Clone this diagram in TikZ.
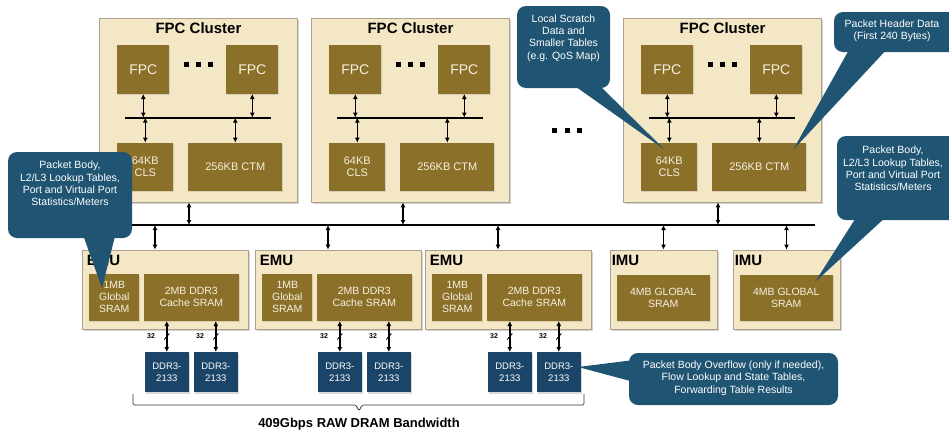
\documentclass[tikz,border=0pt]{standalone}
\usepackage{fontspec}
\setmainfont{Liberation Sans}
\usepackage{xcolor}
\usepackage{tikz}
\usetikzlibrary{positioning}
\usetikzlibrary{arrows.meta}
\usetikzlibrary{shadows}
\usetikzlibrary{decorations.markings}
\definecolor{tan_bg}{RGB}{244,231,198}
\definecolor{tan_edge}{RGB}{170,160,140}
\definecolor{olive_box}{RGB}{139,112,42}
\definecolor{olive_txt}{RGB}{246,240,222}
\definecolor{ddr_color}{RGB}{27,69,104}
\definecolor{note_color}{RGB}{31,84,114}

\begin{document}
\begin{tikzpicture}[
    x=1pt, y=-1pt,
    cluster/.style={draw=tan_edge, fill=tan_bg, line width=0.8pt,
                    minimum width=198pt, minimum height=184pt, inner sep=0pt,
                    drop shadow={shadow xshift=1.5pt, shadow yshift=-1.5pt,
                                 opacity=0.35}},
    unit/.style={cluster, minimum width=166pt, minimum height=79pt},
    ttl/.style={font=\fontsize{15}{17}\selectfont\bfseries, inner sep=0pt},
    block/.style={fill=olive_box, text=olive_txt, align=center, inner sep=0pt,
                  font=\fontsize{10.5}{12}\selectfont,
                  drop shadow={shadow xshift=1pt, shadow yshift=-1pt,
                               opacity=0.25}},
    fpc/.style={block, minimum width=52pt, minimum height=49pt,
                font=\fontsize{14}{16}\selectfont},
    mem/.style={block, minimum height=48pt, font=\fontsize{11}{12.5}\selectfont},
    sram/.style={block, minimum height=47pt},
    ddr/.style={fill=ddr_color, text=white, align=center, inner sep=0pt,
                minimum width=44pt, minimum height=40pt,
                font=\fontsize{9.5}{12}\selectfont,
                drop shadow={shadow xshift=1.5pt, shadow yshift=-1.5pt,
                             opacity=0.3}},
    sqdot/.style={fill=black, minimum size=5pt, inner sep=0pt},
    bus/.style={line width=1.8pt},
    link/.style={<->, line width=1.6pt},
    wide/.style={link, postaction={decorate, decoration={markings,
                 mark=at position 0.5 with {\draw[-, line width=0.9pt]
                 (3pt,-2.5pt) -- (-3pt,2.5pt);}}}},
    wlabel/.style={font=\fontsize{7}{8}\selectfont\bfseries, inner sep=0pt},
    note/.style={fill=note_color, rounded corners=9pt, inner sep=0pt},
    notetext/.style={text=white, align=center, inner sep=0pt,
                     font=\fontsize{10.5}{12.3}\selectfont},
    >={Latex[length=5pt,width=5pt]}]
    \useasboundingbox (0,0) rectangle (949,432);

    % FPC cluster 1
    \node[cluster] (clu1) at (198.5,110) {};
    \node[ttl, anchor=base, yshift=-16pt] (ttl1) at (clu1.north) {FPC Cluster};
    \node[fpc, below right=27pt and 18pt of clu1.north west] (fpcA1) {FPC};
    \node[fpc, below right=27pt and 127pt of clu1.north west] (fpcB1) {FPC};
    \node[mem, minimum width=56pt, below right=125pt and 18pt of clu1.north west] (cls1) {64KB\\CLS};
    \node[mem, minimum width=94pt, below right=125pt and 89pt of clu1.north west] (ctm1) {256KB CTM};
    \node[sqdot, below=44.5pt of clu1.north] (dB1) {};
    \node[sqdot, left=7pt of dB1] (dA1) {};
    \node[sqdot, right=7pt of dB1] (dC1) {};
    \coordinate[below right=100pt and 26pt of clu1.north west] (busL1);
    \coordinate[below right=100pt and 172pt of clu1.north west] (busR1);
    \draw[bus] (busL1) -- (busR1);
    \draw[link] (fpcA1.south) -- (fpcA1.south |- busL1);
    \draw[link] (fpcB1.south) -- (fpcB1.south |- busL1);
    \draw[link] (cls1.north |- busL1) -- (cls1.north);
    \draw[link] (ctm1.north |- busL1) -- (ctm1.north);

    % FPC cluster 2
    \node[cluster] (clu2) at (410.5,110) {};
    \node[ttl, anchor=base, yshift=-16pt] (ttl2) at (clu2.north) {FPC Cluster};
    \node[fpc, below right=27pt and 18pt of clu2.north west] (fpcA2) {FPC};
    \node[fpc, below right=27pt and 127pt of clu2.north west] (fpcB2) {FPC};
    \node[mem, minimum width=56pt, below right=125pt and 18pt of clu2.north west] (cls2) {64KB\\CLS};
    \node[mem, minimum width=94pt, below right=125pt and 89pt of clu2.north west] (ctm2) {256KB CTM};
    \node[sqdot, below=44.5pt of clu2.north] (dB2) {};
    \node[sqdot, left=7pt of dB2] (dA2) {};
    \node[sqdot, right=7pt of dB2] (dC2) {};
    \coordinate[below right=100pt and 26pt of clu2.north west] (busL2);
    \coordinate[below right=100pt and 172pt of clu2.north west] (busR2);
    \draw[bus] (busL2) -- (busR2);
    \draw[link] (fpcA2.south) -- (fpcA2.south |- busL2);
    \draw[link] (fpcB2.south) -- (fpcB2.south |- busL2);
    \draw[link] (cls2.north |- busL2) -- (cls2.north);
    \draw[link] (ctm2.north |- busL2) -- (ctm2.north);

    % more clusters
    \node[sqdot] (gB) at (567,130) {};
    \node[sqdot, left=7pt of gB] (gA) {};
    \node[sqdot, right=7pt of gB] (gC) {};

    % FPC cluster 3
    \node[cluster] (clu3) at (722.5,110) {};
    \node[ttl, anchor=base, yshift=-16pt] (ttl3) at (clu3.north) {FPC Cluster};
    \node[fpc, below right=27pt and 18pt of clu3.north west] (fpcA3) {FPC};
    \node[fpc, below right=27pt and 127pt of clu3.north west] (fpcB3) {FPC};
    \node[mem, minimum width=56pt, below right=125pt and 18pt of clu3.north west] (cls3) {64KB\\CLS};
    \node[mem, minimum width=94pt, below right=125pt and 89pt of clu3.north west] (ctm3) {256KB CTM};
    \node[sqdot, below=44.5pt of clu3.north] (dB3) {};
    \node[sqdot, left=7pt of dB3] (dA3) {};
    \node[sqdot, right=7pt of dB3] (dC3) {};
    \coordinate[below right=100pt and 26pt of clu3.north west] (busL3);
    \coordinate[below right=100pt and 172pt of clu3.north west] (busR3);
    \draw[bus] (busL3) -- (busR3);
    \draw[link] (fpcA3.south) -- (fpcA3.south |- busL3);
    \draw[link] (fpcB3.south) -- (fpcB3.south |- busL3);
    \draw[link] (cls3.north |- busL3) -- (cls3.north);
    \draw[link] (ctm3.north |- busL3) -- (ctm3.north);

    % main bus
    \coordinate (mbL) at (105,225);
    \coordinate (mbR) at (815,225);
    \draw[bus] (mbL) -- (mbR);
    \coordinate (up1) at (189,225);
    \coordinate (up2) at (403,225);
    \coordinate (up3) at (718,225);
    \draw[link] (clu1.south -| up1) -- (up1);
    \draw[link] (clu2.south -| up2) -- (up2);
    \draw[link] (clu3.south -| up3) -- (up3);

    % EMU / IMU
    \node[unit] (emu1) at (165,289.5) {};
    \node[unit] (emu2) at (338,289.5) {};
    \node[unit] (emu3) at (508,289.5) {};
    \node[unit, minimum width=107pt] (imu1) at (663.5,289.5) {};
    \node[unit, minimum width=107pt] (imu2) at (786.5,289.5) {};
    \node[ttl, anchor=base west, xshift=5pt, yshift=-16pt] (lbE1) at (emu1.north west) {EMU};
    \node[ttl, anchor=base west, xshift=5pt, yshift=-16pt] (lbE2) at (emu2.north west) {EMU};
    \node[ttl, anchor=base west, xshift=5pt, yshift=-16pt] (lbE3) at (emu3.north west) {EMU};
    \node[ttl, anchor=base west, xshift=2pt, yshift=-16pt] (lbI1) at (imu1.north west) {IMU};
    \node[ttl, anchor=base west, xshift=2pt, yshift=-16pt] (lbI2) at (imu2.north west) {IMU};
    \node[sram, minimum width=50pt, below right=24pt and 7.5pt of emu1.north west] (gs1) {1MB\\Global\\SRAM};
    \node[sram, minimum width=95pt, below right=24pt and 62pt of emu1.north west] (cache1) {2MB DDR3\\Cache SRAM};
    \node[sram, minimum width=50pt, below right=24pt and 7.5pt of emu2.north west] (gs2) {1MB\\Global\\SRAM};
    \node[sram, minimum width=95pt, below right=24pt and 62pt of emu2.north west] (cache2) {2MB DDR3\\Cache SRAM};
    \node[sram, minimum width=50pt, below right=24pt and 7.5pt of emu3.north west] (gs3) {1MB\\Global\\SRAM};
    \node[sram, minimum width=95pt, below right=24pt and 62pt of emu3.north west] (cache3) {2MB DDR3\\Cache SRAM};
    \node[sram, minimum width=93pt, minimum height=46pt, below right=25pt and 7pt of imu1.north west] (gm1) {4MB GLOBAL\\SRAM};
    \node[sram, minimum width=93pt, minimum height=46pt, below right=25pt and 7pt of imu2.north west] (gm2) {4MB GLOBAL\\SRAM};
    \coordinate (dn1) at (155,225);
    \coordinate (dn2) at (328,225);
    \coordinate (dn3) at (498,225);
    \coordinate (dn4) at (663.5,225);
    \coordinate (dn5) at (786.5,225);
    \draw[link] (dn1) -- (dn1 |- emu1.north);
    \draw[link] (dn2) -- (dn2 |- emu2.north);
    \draw[link] (dn3) -- (dn3 |- emu3.north);
    \draw[link] (dn4) -- (dn4 |- imu1.north);
    \draw[link] (dn5) -- (dn5 |- imu2.north);

    % DRAM
    \node[ddr, below right=31pt and 1pt of cache1.south west] (ddrA1) {DDR3-\\2133};
    \node[ddr, below left=31pt and 1pt of cache1.south east] (ddrB1) {DDR3-\\2133};
    \node[ddr, below right=31pt and 1pt of cache2.south west] (ddrA2) {DDR3-\\2133};
    \node[ddr, below left=31pt and 1pt of cache2.south east] (ddrB2) {DDR3-\\2133};
    \node[ddr, below right=31pt and 1pt of cache3.south west] (ddrA3) {DDR3-\\2133};
    \node[ddr, below left=31pt and 1pt of cache3.south east] (ddrB3) {DDR3-\\2133};
    \draw[wide] (ddrA1.north |- cache1.south) -- (ddrA1.north) node[midway, left=11pt, wlabel] {32};
    \draw[wide] (ddrB1.north |- cache1.south) -- (ddrB1.north) node[midway, left=11pt, wlabel] {32};
    \draw[wide] (ddrA2.north |- cache2.south) -- (ddrA2.north) node[midway, left=11pt, wlabel] {32};
    \draw[wide] (ddrB2.north |- cache2.south) -- (ddrB2.north) node[midway, left=11pt, wlabel] {32};
    \draw[wide] (ddrA3.north |- cache3.south) -- (ddrA3.north) node[midway, left=11pt, wlabel] {32};
    \draw[wide] (ddrB3.north |- cache3.south) -- (ddrB3.north) node[midway, left=11pt, wlabel] {32};

    % bandwidth brace
    \draw[line width=0.7pt, black!80, rounded corners=1.5pt]
      (133,394) -- (133,405) -- (356,405) -- (359,411) -- (362,405)
      -- (584,405) -- (584,394);
    \node[ttl, font=\fontsize{13}{15}\selectfont\bfseries, anchor=base] (bw)
      at (359,427) {409Gbps RAW DRAM Bandwidth};

    % callouts
    \coordinate (tip1) at (102,288);
    \coordinate (tip2) at (665,150);
    \coordinate (tip3) at (793,150);
    \coordinate (tip4) at (815,282);
    \coordinate (tip5) at (578,367);
    \node[note, minimum width=124pt, minimum height=86pt] (co1) at (70,195) {};
    \fill[note_color] (82,232) -- (tip1) -- (116,232) -- cycle;
    \node[notetext] (cot1) at (70,183.5)
      {Packet Body,\\L2/L3 Lookup Tables,\\Port and Virtual Port\\Statistics/Meters};
    \node[note, minimum width=93pt, minimum height=82pt] (co2) at (563.5,47) {};
    \fill[note_color] (572,84) -- (tip2) -- (598,84) -- cycle;
    \node[notetext] (cot2) at (563.5,38)
      {Local Scratch\\Data and\\Smaller Tables\\(e.g. QoS Map)};
    \node[note, minimum width=124pt, minimum height=40pt] (co3) at (896,32) {};
    \fill[note_color] (850,48) -- (tip3) -- (888,48) -- cycle;
    \node[notetext] (cot3) at (892,30.5) {Packet Header Data\\(First 240 Bytes)};
    \node[note, minimum width=121pt, minimum height=84pt] (co4) at (897.5,178) {};
    \fill[note_color] (857,216) -- (tip4) -- (887,216) -- cycle;
    \node[notetext] (cot4) at (893,168.5)
      {Packet Body,\\L2/L3 Lookup Tables,\\Port and Virtual Port\\Statistics/Meters};
    \node[note, minimum width=209pt, minimum height=52pt] (co5) at (733.5,379) {};
    \fill[note_color] (634,360) -- (tip5) -- (634,382) -- cycle;
    \node[notetext] (cot5) at (733.5,378)
      {Packet Body Overflow (only if needed),\\Flow Lookup and State Tables,\\Forwarding Table Results};
\end{tikzpicture}
\end{document}
